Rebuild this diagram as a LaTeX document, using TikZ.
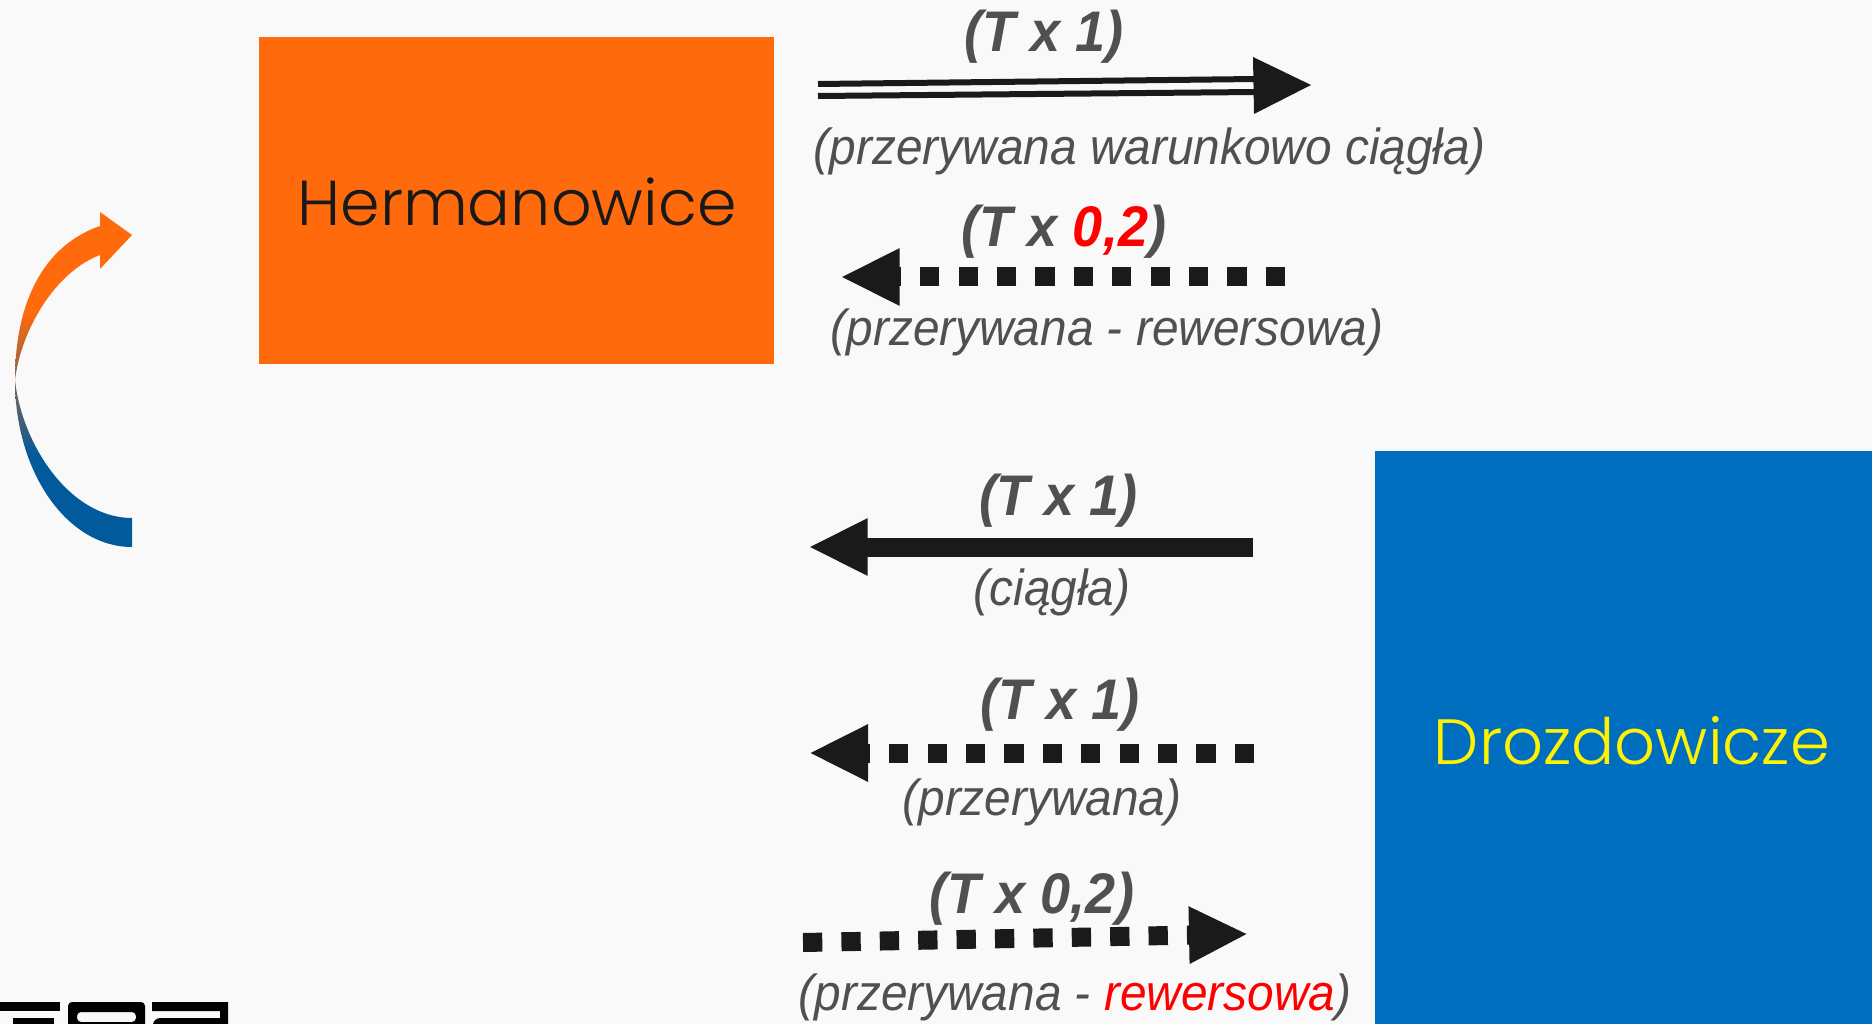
\documentclass[tikz,border=0pt]{standalone}
\usepackage{fontspec}
\setmainfont{Liberation Sans}
\newfontfamily\gothicfont{Poppins Light}
\usetikzlibrary{arrows.meta}
\definecolor{bgc}{HTML}{F9F9F9}
\definecolor{orangec}{HTML}{FF6A0C}
\definecolor{bluec}{HTML}{006EBE}
\definecolor{curveblue}{HTML}{005A9C}
\definecolor{inkc}{HTML}{1A1A1A}
\definecolor{greyc}{HTML}{505050}
\definecolor{redc}{HTML}{FF0000}
\newcommand{\tallertext}[1]{\scalebox{1}[1.06]{#1}}
\tikzset{
  x=1pt,y=-1pt,
  station/.style={inner sep=0pt,outer sep=0pt},
  boldlabel/.style={anchor=base,inner sep=0pt,text=greyc,font=\fontsize{54}{54}\selectfont\bfseries\itshape},
  thinlabel/.style={anchor=base,inner sep=0pt,text=greyc,font=\fontsize{47.8}{48}\selectfont\itshape},
  solidline/.style={draw=inkc,line width=19pt,-{Triangle[length=59pt,width=53pt,fill=inkc]}},
  dotline/.style={draw=inkc,line width=19pt,dash pattern=on 19.3pt off 19.1pt,-{Triangle[length=59pt,width=53pt,fill=inkc]}},
  railline/.style={draw=inkc,line width=6pt},
}
\begin{document}
\begin{tikzpicture}
\useasboundingbox (0,0) rectangle (1872,1024);
\fill[bgc] (0,0) rectangle (1872,1024);

% stations
\fill[orangec] (259,37) rectangle (774,364.5);
\node[station,text=black!90] (herm) at (517,202) {\gothicfont\fontsize{63.5}{64}\selectfont Hermanowice};
\fill[bluec] (1375,451) rectangle (1872,1024);
\node[station,text=yellow] (droz) at (1632,741) {\gothicfont\fontsize{64}{64}\selectfont Drozdowicze};

% curved arrow
\begin{scope}
\clip (132,547) .. controls (67,547) and (15,472) .. (15,380)
  .. controls (15,300) and (45,245) .. (100,226)
  -- (100,212) -- (132,235) -- (100,269) -- (100,255)
  .. controls (55,272) and (21,330) .. (15,380)
  .. controls (22,445) and (70,518) .. (132,518) -- cycle;
\fill[orangec] (0,200) rectangle (140,313);
\shade[top color=orangec,bottom color=curveblue] (0,313) rectangle (140,457);
\fill[curveblue] (0,457) rectangle (140,560);
\end{scope}

% arrow 1: double line
\coordinate (a1s) at (818,84);
\coordinate (a1e) at (1256,79);
\coordinate (b1s) at (818,96);
\coordinate (b1e) at (1256,92);
\draw[railline] (a1s) -- (a1e);
\draw[railline] (b1s) -- (b1e);
\coordinate (h1a) at (1253,57);
\coordinate (h1t) at (1311,85);
\coordinate (h1b) at (1254,114);
\fill[inkc] (h1a) -- (h1t) -- (h1b) -- cycle;

% arrow 2
\coordinate (a2s) at (1285,277);
\coordinate (a2e) at (840.6,277);
\draw[dotline] (a2s) -- (a2e);

% arrow 3
\coordinate (a3s) at (1253,547);
\coordinate (a3e) at (808.6,547);
\draw[solidline] (a3s) -- (a3e);

% arrow 4
\coordinate (a4s) at (1254,753);
\coordinate (a4e) at (809,753);
\draw[dotline] (a4s) -- (a4e);

% arrow 5
\coordinate (a5s) at (803,942.5);
\coordinate (a5e) at (1248,934);
\draw[dotline] (a5s) -- (a5e);

% labels
\node[boldlabel] (l1) at (1044,52) {\tallertext{(T x 1)}};
\node[thinlabel] (l2) at (1150,165) {\tallertext{(przerywana warunkowo ciągła)}};
\node[boldlabel] (l3) at (1064,247) {\tallertext{(T x \textcolor{redc}{0,2})}};
\node[thinlabel] (l4) at (1107,346) {\tallertext{(przerywana - rewersowa)}};
\node[boldlabel] (l5) at (1058.5,515) {\tallertext{(T x 1)}};
\node[thinlabel] (l6) at (1052,605) {\tallertext{(ciągła)}};
\node[boldlabel] (l7) at (1060,719) {\tallertext{(T x 1)}};
\node[thinlabel] (l8) at (1042,815) {\tallertext{(przerywana)}};
\node[boldlabel] (l9) at (1032,913) {\tallertext{(T x 0,2)}};
\node[thinlabel] (l10) at (1075,1010) {\tallertext{(przerywana - \textcolor{redc}{rewersowa})}};

% logo fragment
\fill[black] (0,1002) rectangle (60,1011);
\fill[black] (13,1018) rectangle (54,1024);
\fill[black,even odd rule,rounded corners=4pt] (68,1030) -- (68,1002) -- (145,1002) -- (145,1030) -- cycle
  (77,1022) -- (77,1012) -- (136,1012) -- (136,1022) -- cycle;
\fill[black] (152,1002) -- (228,1002) -- (228,1024) -- (220,1024) -- (220,1011) -- (152,1011) -- cycle;
\fill[black] (153,1024) .. controls (154,1020) and (157,1018) .. (161,1018) -- (220,1018) -- (220,1024) -- cycle;
\end{tikzpicture}
\end{document}
